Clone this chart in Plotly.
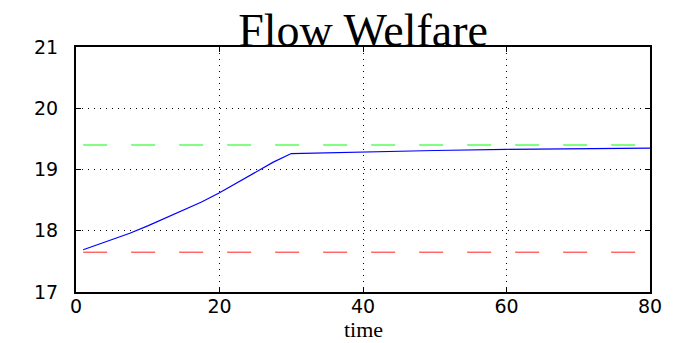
import plotly.graph_objects as go

# Flow welfare path over time, with upper and lower reference levels
time = [1, 5, 7.5, 10, 12.5, 15, 17.5, 20, 22.5, 25, 27.5, 30, 40, 50, 60, 70, 80]
welfare = [17.69, 17.86, 17.96, 18.08, 18.21, 18.33, 18.47, 18.62, 18.79, 18.96, 19.12, 19.26,
           19.29, 19.31, 19.33, 19.34, 19.35]

ref_time = [1, 80]
upper_level = [19.40, 19.40]
lower_level = [17.65, 17.65]

x_ticks = [0, 20, 40, 60, 80]
y_ticks = [17, 18, 19, 20, 21]

fig = go.Figure()
fig.add_trace(go.Scatter(x=ref_time, y=upper_level, mode="lines",
                         line=dict(color="#00ff00", width=1, dash="24px,24px")))
fig.add_trace(go.Scatter(x=ref_time, y=lower_level, mode="lines",
                         line=dict(color="#ff2020", width=1, dash="24px,24px")))
fig.add_trace(go.Scatter(x=time, y=welfare, mode="lines",
                         line=dict(color="#0000ff", width=1.2)))

axis_common = dict(
    showline=True, linecolor="black", linewidth=2, mirror="ticks",
    ticks="inside", ticklen=5, tickwidth=1, tickcolor="black",
    showgrid=True, gridcolor="black", gridwidth=1, griddash="1px,5px",
    zeroline=False, automargin=False,
    tickfont=dict(family="DejaVu Sans", size=19, color="black"),
)

fig.update_xaxes(range=[0, 80], tickvals=x_ticks, ticklabelstandoff=-4, **axis_common)
fig.update_yaxes(range=[17, 21], tickvals=y_ticks, ticklabelstandoff=12, **axis_common)

# x-axis label placed just under the tick labels
fig.add_annotation(text="time", x=0.5, xref="paper", xanchor="center",
                   y=-51 / 245, yref="paper", yanchor="bottom", showarrow=False,
                   borderpad=0,
                   font=dict(family="Liberation Serif", size=22, color="black"))

fig.update_layout(
    width=673, height=343,
    margin=dict(l=76, r=23, t=47, b=51),
    paper_bgcolor="white", plot_bgcolor="white",
    showlegend=False,
    title=dict(text="Flow Welfare", x=0.5395, xanchor="center",
               y=0.912, yref="container", yanchor="middle",
               font=dict(family="Liberation Serif", size=46, color="black")),
)

fig.write_html("out.html")
